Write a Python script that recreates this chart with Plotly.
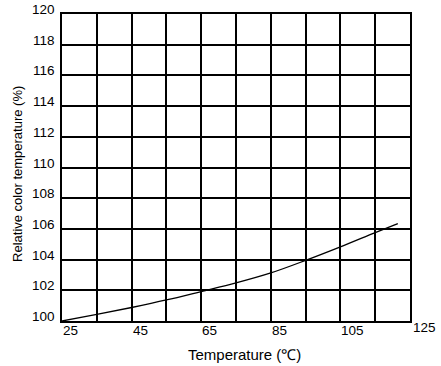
import plotly.graph_objects as go

temperature = [25, 35, 45, 55, 65, 75, 85, 95, 105, 115, 121.5]
relative_ct = [100.0, 100.43, 100.88, 101.37, 101.92, 102.48, 103.13, 103.95, 104.83, 105.76, 106.35]

x_tick_vals = [25, 45, 65, 85, 105, 125]
x_tick_text = ["25", "45", "65", "85", "105", "125"]
y_tick_vals = [100, 102, 104, 106, 108, 110, 112, 114, 116, 118, 120]
y_tick_text = [str(v) for v in y_tick_vals]

FONT = "Liberation Sans, Arial, sans-serif"

fig = go.Figure()
fig.add_trace(go.Scatter(x=temperature, y=relative_ct, mode="lines",
                         line=dict(color="black", width=1.3, shape="spline", smoothing=1.0),
                         showlegend=False, hoverinfo="skip"))

annotations = []
for v, t in zip(x_tick_vals, x_tick_text):
    annotations.append(dict(x=v, y=0, xref="x", yref="paper", text=t, showarrow=False,
                            xanchor="left", yanchor="top",
                            yshift=(0 if t != "125" else 3), xshift=(-1 if t != "125" else 1),
                            font=dict(family=FONT, size=13.5, color="black")))
for v, t in zip(y_tick_vals, y_tick_text):
    annotations.append(dict(x=0, y=v, xref="paper", yref="y", text=t, showarrow=False,
                            xanchor="right", yanchor="middle", xshift=-5, yshift=4.5,
                            font=dict(family=FONT, size=13.5, color="black")))
annotations.append(dict(x=244, y=355, xref="paper", yref="paper", text="Temperature (℃)",
                        showarrow=False, xanchor="center", yanchor="middle",
                        font=dict(family=FONT, size=15, color="black")))
annotations.append(dict(x=18, y=173, xref="paper", yref="paper", text="Relative color temperature (%)",
                        showarrow=False, textangle=-90, xanchor="center", yanchor="middle",
                        font=dict(family=FONT, size=13, color="black")))

# convert pixel-based title positions to paper coordinates
W, H = 441, 366
L, R, T, B = 62, 31, 12, 45
pw, ph = W - L - R, H - T - B
for a in annotations[-2:]:
    a["x"] = (a["x"] - L) / pw
    a["y"] = (H - B - a["y"]) / ph

fig.update_layout(
    width=W, height=H,
    margin=dict(l=L, r=R, t=T, b=B),
    paper_bgcolor="white", plot_bgcolor="white",
    annotations=annotations,
    xaxis=dict(range=[25, 125], dtick=10, tick0=25, showgrid=True, gridcolor="black", gridwidth=1.5,
               showline=True, linecolor="black", linewidth=1.5, mirror=True,
               showticklabels=False, ticks="", zeroline=False, fixedrange=True),
    yaxis=dict(range=[100, 120], dtick=2, tick0=100, showgrid=True, gridcolor="black", gridwidth=1.5,
               showline=True, linecolor="black", linewidth=1.5, mirror=True,
               showticklabels=False, ticks="", zeroline=False, fixedrange=True),
)

fig.write_html("out.html", config={"displayModeBar": False},
               post_script="document.body.style.margin='0px';document.body.style.overflow='hidden';")
